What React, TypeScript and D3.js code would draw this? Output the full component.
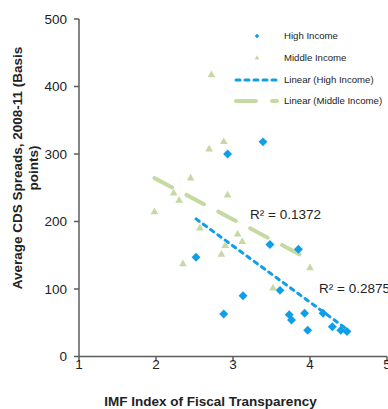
import React from 'react';
import * as d3 from 'd3';

// IMF fiscal transparency index vs average CDS spread (bp)
const highIncomeX = [2.93, 3.39, 2.52, 3.13, 2.88, 3.48, 3.85, 3.61, 3.73, 3.76, 3.93, 3.97, 4.17, 4.29, 4.40, 4.48];
const highIncomeY = [300, 318, 147, 90, 63, 166, 159, 98, 62, 54, 64, 39, 64, 44, 39, 37];
const middleIncomeX = [2.72, 2.88, 2.69, 2.45, 2.23, 2.30, 1.98, 2.93, 2.57, 3.06, 3.12, 2.90, 2.85, 2.35, 4.00, 3.52];
const middleIncomeY = [417, 318, 307, 264, 242, 231, 214, 239, 190, 181, 170, 164, 151, 137, 131, 101];

const xTicks = [1, 2, 3, 4, 5];
const yTicks = [0, 100, 200, 300, 400, 500];
const r2Labels = ['R² = 0.1372', 'R² = 0.2875'];
const legendLabels = ['High Income', 'Middle Income', 'Linear (High Income)', 'Linear (Middle Income)'];

const width = 388;
const height = 409;
const blue = '#0f9fe9';
const green = '#c6d9a3';
const axisColor = '#5c5c5c';
const textColor = '#222';

// least squares fit, spanning the x range of the series
const fit = (xs: number[], ys: number[]) => {
  const mx = d3.mean(xs) as number;
  const my = d3.mean(ys) as number;
  const sxy = d3.sum(xs, (x, i) => (x - mx) * (ys[i] - my));
  const sxx = d3.sum(xs, (x) => (x - mx) ** 2);
  const slope = sxy / sxx;
  const [x0, x1] = d3.extent(xs) as [number, number];
  return [
    [x0, my + slope * (x0 - mx)],
    [x1, my + slope * (x1 - mx)],
  ];
};

const App = () => {
  const x = d3.scaleLinear().domain([1, 5]).range([79, 387]);
  const y = d3.scaleLinear().domain([0, 500]).range([356.5, 19]);

  const diamond = d3.symbol().type(d3.symbolSquare).size(40)();
  const triangle = d3.symbol().type(d3.symbolTriangle).size(26)();
  const smallDiamond = d3.symbol().type(d3.symbolSquare).size(10)();
  const smallTriangle = d3.symbol().type(d3.symbolTriangle).size(10)();

  const line = d3.line<number[]>().x((d) => x(d[0])).y((d) => y(d[1]));
  const highFit = fit(highIncomeX, highIncomeY);
  const middleFit = fit(middleIncomeX, middleIncomeY);

  const font = 'Arial, "Liberation Sans", sans-serif';

  return (
    <div style={{ position: 'absolute', left: 0, top: 0 }}>
      <svg width={width} height={height} style={{ display: 'block', fontFamily: font }}>
        <rect width={width} height={height} fill="#fff" />

        {/* y axis */}
        <line x1={x(1)} x2={x(1)} y1={y(500)} y2={y(0)} stroke={axisColor} strokeWidth={1.5} />
        {yTicks.map((t) => (
          <g key={t}>
            <line x1={x(1) - 5} x2={x(1)} y1={y(t)} y2={y(t)} stroke={axisColor} strokeWidth={1.5} />
            <text x={67} y={y(t)} dy="0.35em" textAnchor="end" fontSize={13.5} fill={textColor}>{t}</text>
          </g>
        ))}

        {/* x axis */}
        <line x1={x(1)} x2={x(5)} y1={y(0)} y2={y(0)} stroke={axisColor} strokeWidth={1.5} />
        {xTicks.map((t) => (
          <g key={t}>
            <line x1={x(t)} x2={x(t)} y1={y(0)} y2={y(0) + 5} stroke={axisColor} strokeWidth={1.5} />
            <text x={x(t)} y={369} textAnchor="middle" fontSize={13.5} fill={textColor}>{t}</text>
          </g>
        ))}

        {/* axis titles */}
        <text x={210.5} y={406} textAnchor="middle" fontSize={13.5} fontWeight="bold" fill={textColor}>
          IMF Index of Fiscal Transparency
        </text>
        <g transform="translate(22,168) rotate(-90)">
          <text x={0} y={0} textAnchor="middle" fontSize={13.5} fontWeight="bold" fill={textColor}>
            Average CDS Spreads, 2008-11 (Basis
          </text>
          <text x={0} y={15.5} textAnchor="middle" fontSize={13.5} fontWeight="bold" fill={textColor}>
            points)
          </text>
        </g>

        {/* trendlines */}
        <path d={line(middleFit) as string} fill="none" stroke={green} strokeWidth={4}
          strokeDasharray="20 16" strokeLinecap="round" />
        <path d={line(highFit) as string} fill="none" stroke={blue} strokeWidth={3}
          strokeDasharray="4 5" strokeLinecap="round" />

        {/* points */}
        {highIncomeX.map((v, i) => (
          <path key={'h' + i} d={diamond as string}
            transform={`translate(${x(v)},${y(highIncomeY[i])}) rotate(45)`} fill={blue} />
        ))}
        {middleIncomeX.map((v, i) => (
          <path key={'m' + i} d={triangle as string}
            transform={`translate(${x(v)},${y(middleIncomeY[i])})`} fill={green} />
        ))}

        {/* R² labels */}
        <text x={250} y={214} dy="0.35em" fontSize={13.5} fill={textColor}>{r2Labels[0]}</text>
        <text x={319} y={288} dy="0.35em" fontSize={13.5} fill={textColor}>{r2Labels[1]}</text>

        {/* legend */}
        <path d={smallDiamond as string} transform="translate(257,36) rotate(45)" fill={blue} />
        <path d={smallTriangle as string} transform="translate(257,58)" fill={green} />
        <line x1={236} x2={278} y1={80} y2={80} stroke={blue} strokeWidth={3}
          strokeDasharray="4 5" strokeLinecap="round" />
        <line x1={236} x2={277} y1={101} y2={101} stroke={green} strokeWidth={4}
          strokeDasharray="20 16" strokeLinecap="round" />
        {legendLabels.map((l, i) => (
          <text key={l} x={284} y={[36, 58, 80, 101][i]} dy="0.35em" fontSize={9.6} fill={textColor}>{l}</text>
        ))}
      </svg>
    </div>
  );
};

export default App;
